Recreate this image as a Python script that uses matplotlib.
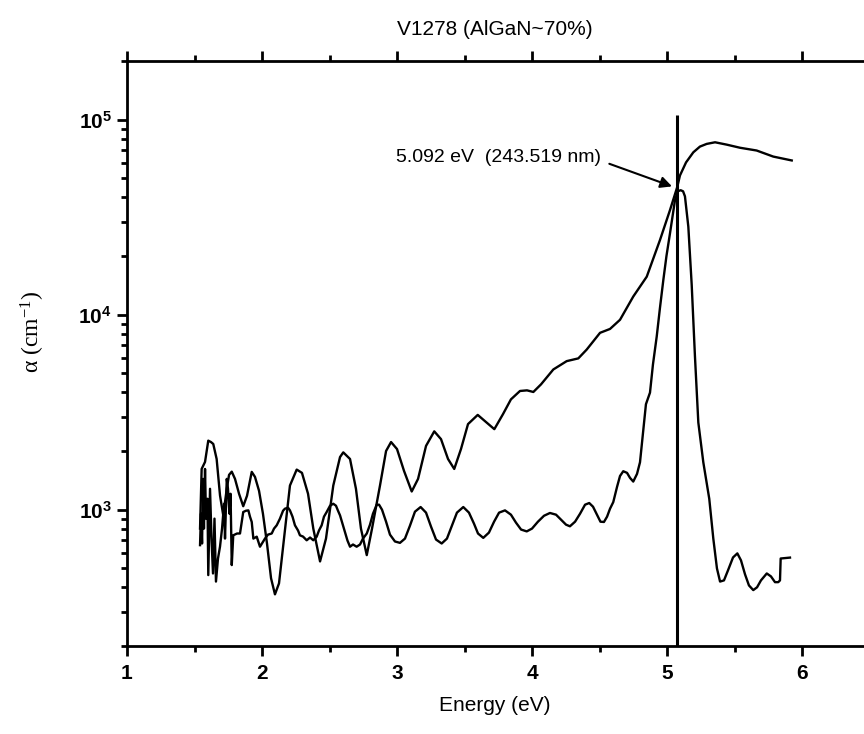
import matplotlib
matplotlib.use("Agg")
import matplotlib.pyplot as plt
from matplotlib.ticker import MultipleLocator, LogLocator, NullFormatter, FixedLocator

plt.rcParams['font.family'] = ['Liberation Sans', 'DejaVu Sans']
plt.rcParams['mathtext.default'] = 'regular'

# ---------------- data ----------------
energy_a = [1.541, 1.553, 1.578, 1.602, 1.622, 1.639, 1.664, 1.689, 1.713, 1.739,
            1.756, 1.776, 1.800, 1.830, 1.861, 1.889, 1.924, 1.948, 1.978, 2.007,
            2.037, 2.067, 2.096, 2.126, 2.163, 2.207, 2.257, 2.296, 2.341, 2.380,
            2.430, 2.474, 2.528, 2.578, 2.602, 2.652, 2.696, 2.733, 2.776, 2.815,
            2.874, 2.919, 2.956, 3.000, 3.052, 3.109, 3.156, 3.215, 3.276, 3.326,
            3.378, 3.424, 3.474, 3.526, 3.598, 3.652, 3.721, 3.785, 3.844, 3.911,
            3.963, 4.010, 4.067, 4.158, 4.257, 4.343, 4.405, 4.504, 4.578, 4.652,
            4.750, 4.850, 4.948, 5.022, 5.076, 5.096, 5.141, 5.195, 5.244, 5.294,
            5.356, 5.442, 5.541, 5.664, 5.787, 5.924]
alpha_a = [800, 1618, 1758, 2260, 2223, 2173, 1820, 1183, 935, 1280,
           1509, 1567, 1439, 1207, 1042, 1179, 1563, 1473, 1250, 954,
           671, 445, 368, 419, 711, 1330, 1606, 1545, 1207, 800,
           543, 711, 1330, 1862, 1968, 1820, 1280, 800, 585, 800,
           1330, 2000, 2223, 2047, 1581, 1240, 1439, 2124, 2522, 2301,
           1820, 1618, 2047, 2748, 3063, 2844, 2588, 3090, 3680, 4063,
           4093, 4015, 4395, 5238, 5780, 5970, 6623, 8074, 8453, 9418,
           12390, 15670, 24150, 34370, 45200, 51760, 60400, 68050, 72800, 75140,
           76600, 74500, 71800, 69500, 64700, 61800]

energy_b = [1.541, 1.548, 1.556, 1.563, 1.570, 1.578, 1.585, 1.596, 1.602, 1.615,
            1.626, 1.637, 1.648, 1.659, 1.674, 1.689, 1.704, 1.719, 1.726, 1.739,
            1.748, 1.759, 1.767, 1.776, 1.787, 1.815, 1.837, 1.861, 1.881, 1.899,
            1.911, 1.924, 1.936, 1.961, 1.985, 2.004, 2.022, 2.044, 2.072, 2.089,
            2.109, 2.133, 2.156, 2.170, 2.193, 2.207, 2.226, 2.244, 2.267, 2.281,
            2.304, 2.331, 2.356, 2.380, 2.405, 2.422, 2.442, 2.459, 2.479, 2.504,
            2.528, 2.548, 2.563, 2.578, 2.596, 2.615, 2.633, 2.652, 2.674, 2.701,
            2.726, 2.748, 2.776, 2.800, 2.822, 2.850, 2.867, 2.889, 2.919, 2.948,
            2.985, 3.022, 3.059, 3.096, 3.133, 3.175, 3.215, 3.252, 3.289, 3.331,
            3.370, 3.407, 3.444, 3.491, 3.533, 3.570, 3.600, 3.639, 3.681, 3.719,
            3.756, 3.800, 3.844, 3.881, 3.919, 3.961, 4.000, 4.044, 4.089, 4.133,
            4.178, 4.222, 4.252, 4.281, 4.319, 4.356, 4.393, 4.424, 4.452, 4.481,
            4.507, 4.533, 4.556, 4.578, 4.602, 4.630, 4.652, 4.676, 4.704, 4.726,
            4.750, 4.778, 4.800, 4.825, 4.844, 4.874, 4.896, 4.924, 4.948, 4.973,
            4.996, 5.022, 5.059, 5.081, 5.101, 5.119, 5.133, 5.158, 5.183, 5.207,
            5.232, 5.269, 5.313, 5.343, 5.370, 5.393, 5.422, 5.452, 5.489, 5.521,
            5.548, 5.578, 5.607, 5.639, 5.667, 5.696, 5.739, 5.770, 5.800, 5.824,
            5.837, 5.842, 5.911]
alpha_b = [658, 954, 671, 1439, 800, 1618, 900, 1138, 462, 1280,
           711, 471, 900, 428, 562, 647, 800, 1073, 711, 1439,
           1280, 954, 1207, 520, 739, 755, 755, 973, 988, 992,
           921, 865, 711, 727, 646, 679, 711, 745, 755, 800,
           832, 900, 988, 1012, 1024, 992, 921, 832, 782, 739,
           728, 697, 720, 697, 727, 782, 832, 921, 973, 1048,
           1073, 1048, 988, 935, 849, 769, 695, 646, 663, 646,
           663, 711, 755, 838, 954, 1061, 1061, 1000, 868, 745,
           687, 676, 711, 828, 977, 1032, 966, 819, 703, 671,
           711, 828, 966, 1032, 966, 849, 755, 717, 763, 868,
           966, 992, 943, 859, 791, 774, 800, 868, 931, 962,
           943, 879, 838, 822, 868, 954, 1061, 1082, 1036, 943,
           868, 865, 921, 1012, 1094, 1310, 1489, 1575, 1545, 1456,
           1394, 1527, 1751, 2588, 3475, 3985, 5560, 7745, 10860, 15100,
           20000, 26100, 38600, 42950, 43500, 42950, 40450, 28260, 14220, 6125,
           2800, 1750, 1138, 711, 500, 428, 434, 489, 569, 597,
           550, 466, 409, 387, 400, 434, 471, 455, 425, 425,
           434, 562, 568]

marker_energy = 5.075
marker_top = 1.06e5
label_text = "5.092 eV  (243.519 nm)"
title_text = "V1278 (AlGaN~70%)"
xticks_major = [1, 2, 3, 4, 5, 6]

# ---------------- figure ----------------
fig = plt.figure(figsize=(8.64, 7.34), dpi=100)
W, H = 864, 734
left_px, bottom_px, top_px = 127, 646, 61
px_per_unit = 135
x_min, x_max = 1.0, 6.55
ax_w_px = (x_max - x_min) * px_per_unit
ax = fig.add_axes([left_px / W, (H - bottom_px) / H,
                   ax_w_px / W, (bottom_px - top_px) / H])

ax.plot(energy_a, alpha_a, color='black', lw=1.7, solid_joinstyle='round')
ax.plot(energy_b, alpha_b, color='black', lw=1.7, solid_joinstyle='round')

ax.set_yscale('log')
ax.set_xlim(x_min, x_max)
ax.set_ylim(200, 2e5)
ax.vlines(marker_energy, 200, marker_top, color='black', lw=2.2)

ax.annotate(label_text, xy=(5.037, 4.55e4), xytext=(2.995, 6.4e4),
            fontsize=14, ha='left', va='center',
            arrowprops=dict(arrowstyle='-|>', color='black', lw=1.5,
                            mutation_scale=17, shrinkA=4, shrinkB=0,
                            relpos=(1.0, 0.3)))

for s in ['left', 'bottom', 'top']:
    ax.spines[s].set_linewidth(2)
ax.spines['right'].set_visible(False)

ax.xaxis.set_major_locator(FixedLocator(xticks_major))
ax.xaxis.set_minor_locator(MultipleLocator(0.5))
ax.yaxis.set_major_locator(LogLocator(base=10, numticks=10))
ax.yaxis.set_minor_locator(LogLocator(base=10, subs=range(2, 10), numticks=20))
ax.yaxis.set_minor_formatter(NullFormatter())

ax.tick_params(axis='x', which='both', direction='out', top=True, bottom=True,
               labeltop=False, width=2)
ax.tick_params(axis='y', which='both', direction='out', left=True, right=False, width=2)
ax.tick_params(which='major', length=7)
ax.tick_params(which='minor', length=4)
ax.tick_params(axis='x', which='major', labelsize=15, pad=6)
ax.tick_params(axis='y', which='major', labelsize=15, pad=4)
for lab in ax.get_xticklabels() + ax.get_yticklabels():
    lab.set_fontweight('bold')

center_frac = (495 - left_px) / ax_w_px
ax.set_title(title_text, fontsize=15, x=center_frac, pad=19)
ax.set_xlabel("Energy (eV)", fontsize=15)
ax.xaxis.set_label_coords(center_frac, -0.085)
fig.text(33 / W, 1 - 332 / H, r"α (cm$^{-1}$)", fontsize=17, rotation=90,
         ha='center', va='center', family=['Liberation Serif', 'DejaVu Serif'])

fig.savefig("out.png", dpi=100)
